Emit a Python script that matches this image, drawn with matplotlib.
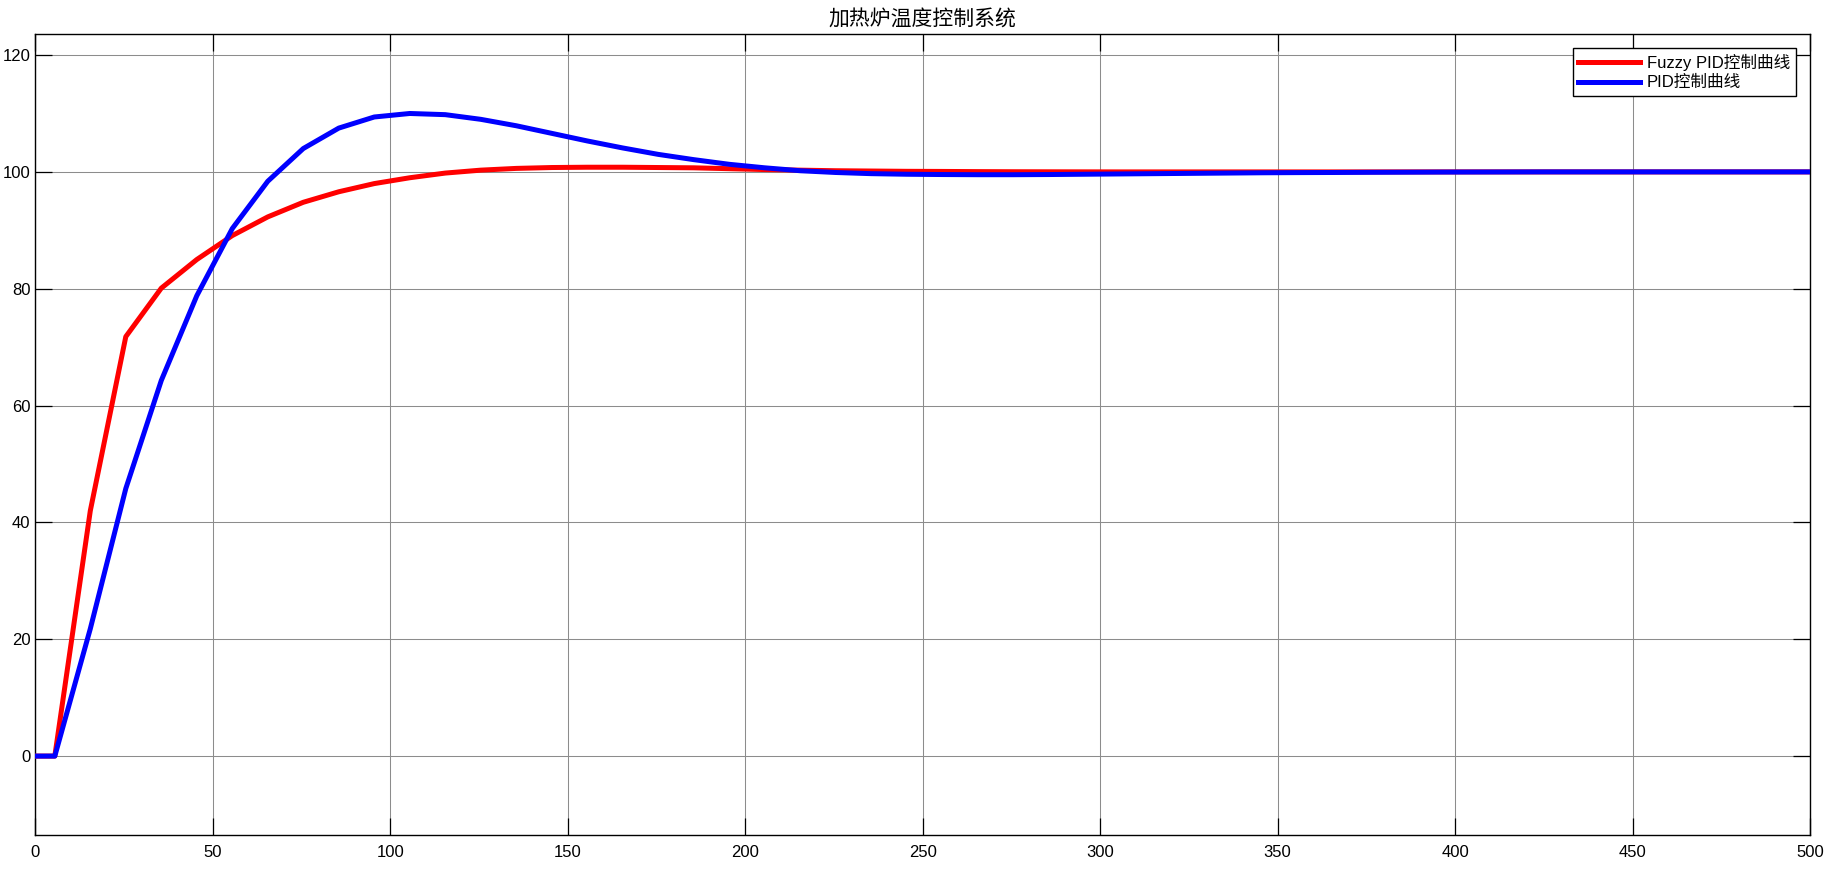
import numpy as np
import matplotlib
matplotlib.use("Agg")
import matplotlib.pyplot as plt

plt.rcParams['font.family'] = ['Liberation Sans', 'Noto Sans CJK SC']
plt.rcParams['axes.unicode_minus'] = False

# sample times (s)
t = np.concatenate([[0], np.arange(5.5, 500, 10), [500]])

fuzzy_pid = [0, 0, 42.0, 71.8, 80.1, 85.0, 89.1, 92.3, 94.8, 96.6,
             98.0, 99.0, 99.8, 100.3, 100.6, 100.75, 100.8, 100.8, 100.75, 100.7,
             100.55, 100.4, 100.3, 100.2, 100.15, 100.1, 100.08, 100.05, 100.03, 100.02,
             100.01, 100.0, 100.0, 100.0, 100.0, 100.0, 100.0, 100.0, 100.0, 100.0,
             100.0, 100.0, 100.0, 100.0, 100.0, 100.0, 100.0, 100.0, 100.0, 100.0,
             100.0, 100.0]
pid = [0, 0, 21.8, 45.8, 64.3, 78.8, 90.3, 98.4, 104.0, 107.5,
       109.4, 110.0, 109.8, 109.0, 107.9, 106.6, 105.3, 104.1, 103.0, 102.1,
       101.3, 100.7, 100.2, 99.9, 99.7, 99.6, 99.55, 99.52, 99.52, 99.55,
       99.6, 99.65, 99.7, 99.75, 99.8, 99.85, 99.88, 99.9, 99.93, 99.95,
       99.97, 99.98, 99.99, 100.0, 100.0, 100.0, 100.0, 100.0, 100.0, 100.0,
       100.0, 100.0]

labels = ['Fuzzy PID控制曲线', 'PID控制曲线']
title = '加热炉温度控制系统'
xticks = [0, 50, 100, 150, 200, 250, 300, 350, 400, 450, 500]
yticks = [0, 20, 40, 60, 80, 100, 120]

fig = plt.figure(figsize=(18.38, 8.91), dpi=100)
ax = fig.add_axes([0.0192, 0.0629, 0.9656, 0.8989])

ax.plot(t, fuzzy_pid, color='#ff0000', lw=3.6, label=labels[0], zorder=3)
ax.plot(t, pid, color='#0000ff', lw=3.6, label=labels[1], zorder=4)

ax.set_xlim(0, 500)
ax.set_ylim(-13.5, 123.6)
ax.set_xticks(xticks)
ax.set_yticks(yticks)
ax.grid(True, color='#8c8c8c', lw=0.75)
ax.tick_params(direction='in', length=12, width=0.9, labelsize=12,
               top=True, right=True, colors='black')
ax.tick_params(axis='x', pad=7.5)
for s in ax.spines.values():
    s.set_linewidth(1.0)

ax.set_title(title, fontsize=15, pad=6, family=['Noto Sans CJK SC'])

leg = ax.legend(loc='upper right', fontsize=12, handlelength=3.7,
                borderaxespad=0.85, fancybox=False, framealpha=1,
                edgecolor='black', labelspacing=0.25, handletextpad=0.4,
                borderpad=0.35)
leg.get_frame().set_linewidth(1.0)

fig.savefig('out.png', dpi=100)
